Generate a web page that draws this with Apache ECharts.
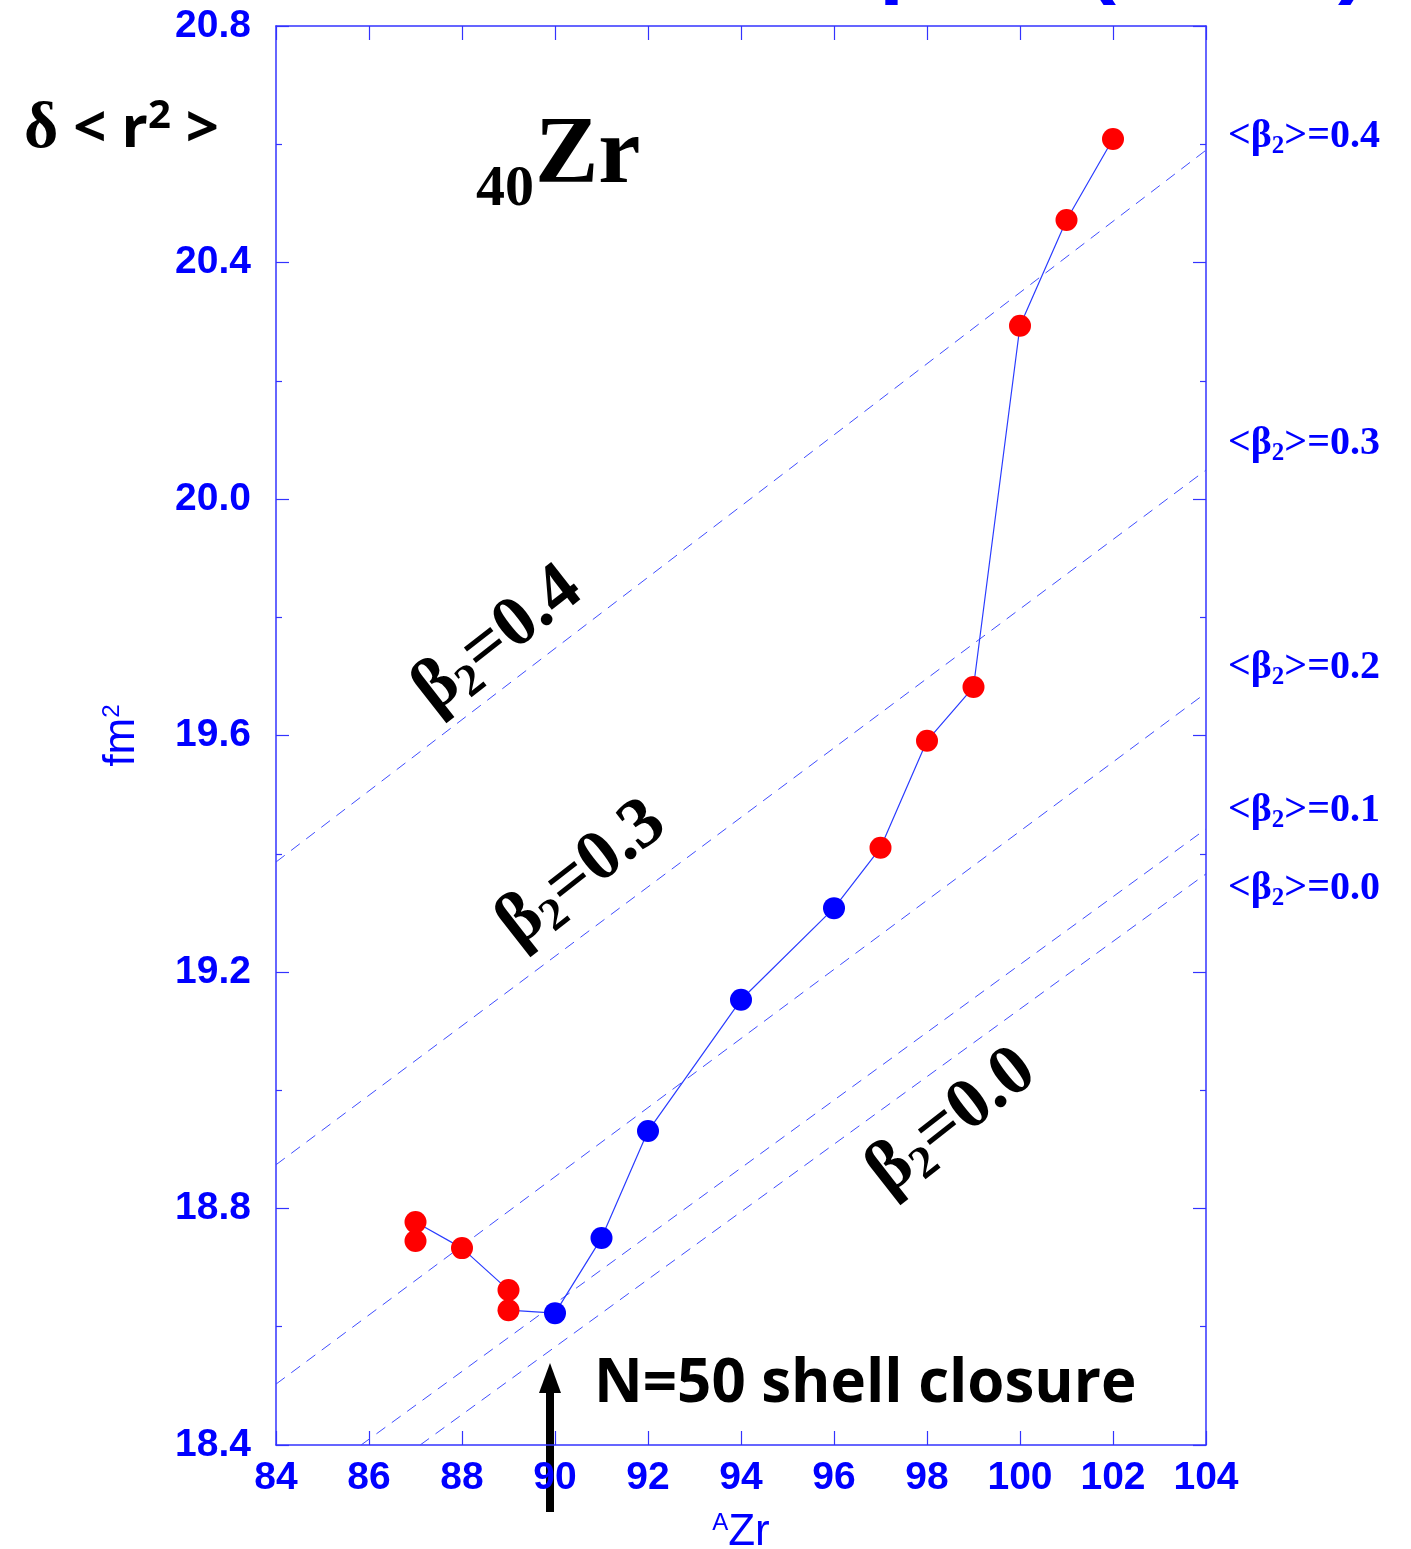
<!DOCTYPE html>
<html><head><meta charset="utf-8">
<script src="https://cdn.jsdelivr.net/npm/echarts@6/dist/echarts.min.js"></script>
<style>html,body{margin:0;padding:0;background:#fff}#c{width:1411px;height:1549px}</style>
</head><body><div id="c"></div>
<script>
// ---- data ----
const isotopesRed = [87, 87, 88, 89, 89, 97, 98, 99, 100, 101, 102];
const radiiRed = [18.777, 18.745, 18.733, 18.662, 18.628, 19.410, 19.591, 19.682, 20.293, 20.472, 20.609];
const isotopesBlue = [90, 91, 92, 94, 96];
const radiiBlue = [18.623, 18.750, 18.931, 19.153, 19.308];
const chainA = [87, 88, 89, 89, 90, 91, 92, 94, 96, 97, 98, 99, 100, 101, 102];
const chainR = [18.777, 18.733, 18.662, 18.628, 18.623, 18.750, 18.931, 19.153, 19.308, 19.410, 19.591, 19.682, 20.293, 20.472, 20.609];
const betaValues = ['0.4', '0.3', '0.2', '0.1', '0.0'];
const betaStartA = [84, 84, 84, 85.83, 87.10];
const betaStartR = [19.386, 18.874, 18.503, 18.4, 18.4];
const betaEndA = [104, 104, 104, 104, 104];
const betaEndR = [20.59, 20.049, 19.672, 19.442, 19.366];
const xMin = 84, xMax = 104, xStep = 2;
const yMin = 18.4, yMax = 20.8, yStep = 0.4;
const arrowIsotope = 90;

// ---- styles ----
const BLUE = '#0000ff';
const AXIS_BLUE = '#3333ff';
const SERIF = '"Liberation Serif","Times New Roman",serif';
const SANS = '"Liberation Sans",Arial,sans-serif';
const COMIC = '"Comic Sans MS","Open Sans",Lato,sans-serif';

const chart = echarts.init(document.getElementById('c'), null, {renderer: 'canvas'});

const axisLineStyle = {show: true, lineStyle: {color: AXIS_BLUE, width: 1.5}};
const xBase = {type: 'value', min: xMin, max: xMax, interval: xStep, splitLine: {show: false},
  axisLine: axisLineStyle, axisTick: {show: true, inside: true, length: 14, lineStyle: {color: AXIS_BLUE, width: 1.2}}};
const yBase = {type: 'value', min: yMin, max: yMax, interval: yStep, splitLine: {show: false},
  axisLine: axisLineStyle, axisTick: {show: true, inside: true, length: 13, lineStyle: {color: AXIS_BLUE, width: 1.2}},
  minorTick: {show: true, splitNumber: 2, length: 6, lineStyle: {color: AXIS_BLUE, width: 1.2}}};

const betaSeries = betaValues.map((b, i) => ({
  type: 'line', name: 'beta ' + b, data: [[betaStartA[i], betaStartR[i]], [betaEndA[i], betaEndR[i]]],
  symbol: 'none', silent: true, z: 1,
  lineStyle: {color: '#3f4dff', width: 1, type: [11, 8]}
}));

const rightLabelY = [137, 444, 668, 811, 889];
const rightLabels = betaValues.map((b, i) => ({
  type: 'text', x: 1228, y: rightLabelY[i],
  style: {text: '{a|<β}{s|2}{a|>=' + b + '}', align: 'left', verticalAlign: 'middle',
    rich: {a: {fontFamily: SERIF, fontWeight: 'bold', fontSize: 40, fill: BLUE, verticalAlign: 'middle'},
           s: {fontFamily: SERIF, fontWeight: 'bold', fontSize: 25, fill: BLUE, verticalAlign: 'bottom', padding: [20, 0, 0, 0]}}}
}));

function betaTag(txt, cx, cy) {
  return {type: 'text', x: cx, y: cy, rotation: 38 * Math.PI / 180,
    style: {text: '{a|β}{s|2}{a|=' + txt + '}', align: 'center', verticalAlign: 'middle',
      rich: {a: {fontFamily: SERIF, fontWeight: 'bold', fontSize: 72, fill: '#000'},
             s: {fontFamily: SERIF, fontWeight: 'bold', fontSize: 46, fill: '#000', padding: [34, 0, 0, 0]}}}};
}

const option = {
  animation: false,
  backgroundColor: '#fff',
  grid: {left: 276, right: 205, top: 26, bottom: 104, containLabel: false, outerBoundsMode: 'none'},
  xAxis: [
    Object.assign({}, xBase, {position: 'bottom',
      axisLabel: {color: BLUE, fontFamily: SANS, fontWeight: 'bold', fontSize: 39, margin: 14},
      name: '{a|A}{z|Zr}', nameLocation: 'middle', nameGap: 66,
      nameTextStyle: {rich: {a: {fontFamily: SANS, fontSize: 24, color: BLUE, verticalAlign: 'top'},
                             z: {fontFamily: SANS, fontSize: 44, color: BLUE}}}}),
    Object.assign({}, xBase, {position: 'top', axisLabel: {show: false}})
  ],
  yAxis: [
    Object.assign({}, yBase, {position: 'left',
      axisLabel: {color: BLUE, fontFamily: SANS, fontWeight: 'bold', fontSize: 39, margin: 25,
        formatter: v => v.toFixed(1)},
      name: '{n|fm}{s|2}', nameLocation: 'middle', nameGap: 132, nameRotate: 90,
      nameTextStyle: {rich: {n: {fontFamily: SANS, fontSize: 44, color: BLUE},
                             s: {fontFamily: SANS, fontSize: 24, color: BLUE, verticalAlign: 'top'}}}}),
    Object.assign({}, yBase, {position: 'right', axisLabel: {show: false}})
  ],
  series: betaSeries.concat([
    {type: 'line', name: 'chain', data: chainA.map((a, i) => [a, chainR[i]]), symbol: 'none', z: 2,
     lineStyle: {color: '#2a3cff', width: 1.2}},
    {type: 'scatter', name: 'red', data: isotopesRed.map((a, i) => [a, radiiRed[i]]), symbolSize: 22, z: 3,
     itemStyle: {color: '#ff0000', opacity: 1}},
    {type: 'scatter', name: 'blue', data: isotopesBlue.map((a, i) => [a, radiiBlue[i]]), symbolSize: 22, z: 3,
     itemStyle: {color: '#0000ff', opacity: 1}}
  ]),
  graphic: []
};
chart.setOption(option);

const ax = chart.convertToPixel({xAxisIndex: 0}, arrowIsotope) - 5;
const graphics = [
  // cut-off title fragments at top edge
  {type: 'text', x: 879, y: -39, style: {text: 'p', fontFamily: SANS, fontWeight: 'bold', fontSize: 90, fill: BLUE, verticalAlign: 'middle', align: 'left'}},
  {type: 'text', x: 1086, y: -39, style: {text: '(', fontFamily: SANS, fontWeight: 'bold', fontSize: 90, fill: BLUE, verticalAlign: 'middle', align: 'left'}},
  {type: 'text', x: 1338, y: -39, style: {text: ')', fontFamily: SANS, fontWeight: 'bold', fontSize: 90, fill: BLUE, verticalAlign: 'middle', align: 'left'}},
  // δ<r²>
  {type: 'text', x: 24, y: 130, style: {text: '{d|δ}{c| <}{c| r}{s|2}{c| >}', align: 'left', verticalAlign: 'middle',
    rich: {d: {fontFamily: SERIF, fontWeight: 'bold', fontSize: 66, fill: '#000'},
           c: {fontFamily: COMIC, fontWeight: 'bold', fontSize: 58, fill: '#000'},
           s: {fontFamily: COMIC, fontWeight: 'bold', fontSize: 40, fill: '#000', verticalAlign: 'top'}}}},
  // 40Zr
  {type: 'text', x: 476, y: 190, style: {text: '40', fontFamily: SERIF, fontWeight: 'bold', fontSize: 58, fill: '#000', align: 'left', verticalAlign: 'middle'}},
  {type: 'text', x: 535, y: 157, style: {text: 'Zr', fontFamily: SERIF, fontWeight: 'bold', fontSize: 95, fill: '#000', align: 'left', verticalAlign: 'middle'}},
  betaTag('0.4', 498, 640),
  betaTag('0.3', 582, 874),
  betaTag('0.0', 952, 1122),
  // arrow
  {type: 'rect', shape: {x: ax - 4, y: 1388, width: 8, height: 124}, style: {fill: '#000'}},
  {type: 'polygon', shape: {points: [[ax, 1363], [ax - 11, 1393], [ax + 11, 1393]]}, style: {fill: '#000'}},
  // N=50 shell closure
  {type: 'text', x: 594, y: 1385, style: {text: 'N=50 shell closure', fontFamily: COMIC, fontWeight: 'bold', fontSize: 60, fill: '#000', align: 'left', verticalAlign: 'middle'}}
].concat(rightLabels);
chart.setOption({graphic: graphics});
</script></body></html>
